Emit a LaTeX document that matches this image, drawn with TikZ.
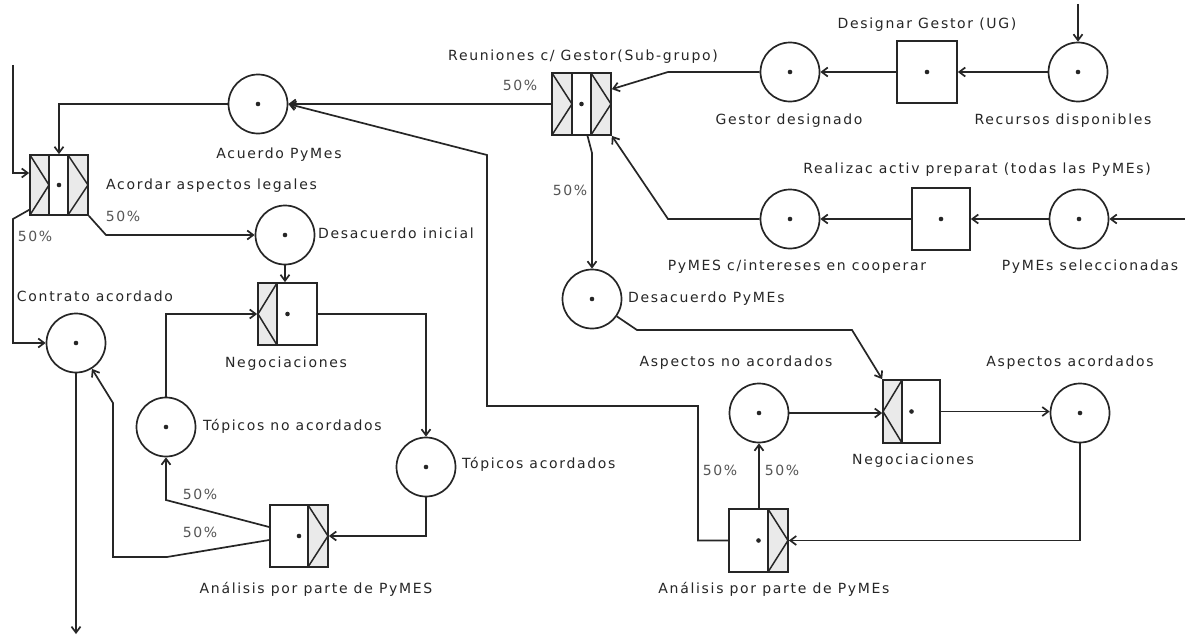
\documentclass[tikz,border=0pt]{standalone}
\usepackage{fontspec}
\newfontfamily\lblfont{DejaVu Sans}[LetterSpace=12]
\usetikzlibrary{arrows.meta,calc}
\definecolor{ink}{HTML}{262626}
\definecolor{lbl}{HTML}{262626}
\definecolor{pct}{HTML}{555555}
\definecolor{secfill}{HTML}{EAEAEA}
\tikzset{
  place/.style={circle,draw=ink,line width=1.7pt,minimum size=59pt,inner sep=0pt},
  trans/.style={rectangle,draw=ink,line width=1.7pt,inner sep=0pt},
  lab/.style={font=\lblfont\fontsize{14}{16}\selectfont,text=lbl,inner sep=0pt,text height=10pt,text depth=3pt},
  pctl/.style={lab,text=pct},
  conn/.style={draw=ink,line width=1.7pt,-{Straight Barb[length=6pt,width=9pt]}},
  secline/.style={draw=ink,line width=1.5pt},
}
% section with ">" : left x, right x, top y, bottom y
\newcommand{\pnSecR}[4]{%
  \fill[secfill] (#1,#3) rectangle (#2,#4);
  \draw[secline] (#1,#3) -- (#2,{(#3+#4)/2}) -- (#1,#4);}
% section with "<"
\newcommand{\pnSecL}[4]{%
  \fill[secfill] (#1,#3) rectangle (#2,#4);
  \draw[secline] (#2,#3) -- (#1,{(#3+#4)/2}) -- (#2,#4);}
\begin{document}
\begin{tikzpicture}[x=1pt,y=-1pt]
\useasboundingbox[fill=white] (0,0) rectangle (1185,642);

% ---------- section decorations (drawn first) ----------
\pnSecR{552}{572}{73}{135}
\pnSecR{591}{611}{73}{135}
\pnSecR{30}{49}{155}{215}
\pnSecR{68}{88}{155}{215}
\pnSecL{258}{277}{283}{345}
\pnSecL{883}{902}{380}{443}
\pnSecR{308}{328}{505}{567}
\pnSecR{768}{788}{509}{572}
\draw[secline] (572,73) -- (572,135) (591,73) -- (591,135);
\draw[secline] (49,155) -- (49,215) (68,155) -- (68,215);
\draw[secline] (277,283) -- (277,345);
\draw[secline] (902,380) -- (902,443);
\draw[secline] (308,505) -- (308,567);
\draw[secline] (768,509) -- (768,572);

% ---------- places ----------
\node[place] (rec) at (1078,72) {};
\node[place] (ges) at (790,72) {};
\node[place] (acu) at (258,104) {};
\node[place] (pci) at (790,219) {};
\node[place] (pys) at (1079,219) {};
\node[place] (dpy) at (592,299) {};
\node[place] (din) at (285,235) {};
\node[place] (con) at (76,343) {};
\node[place] (tna) at (166,427) {};
\node[place] (tac) at (426,467) {};
\node[place] (ana) at (759,413) {};
\node[place] (aac) at (1080,413) {};

% ---------- transitions ----------
\node[trans,minimum width=60pt,minimum height=62pt] (dg) at (927,72) {};
\node[trans,minimum width=58pt,minimum height=62pt] (rap) at (941,219) {};
\node[trans,minimum width=59pt,minimum height=62pt] (reu) at (581.5,104) {};
\node[trans,minimum width=58pt,minimum height=60pt] (aal) at (59,185) {};
\node[trans,minimum width=59pt,minimum height=62pt] (neg1) at (287.5,314) {};
\node[trans,minimum width=57pt,minimum height=63pt] (neg2) at (911.5,411.5) {};
\node[trans,minimum width=58pt,minimum height=62pt] (an1) at (299,536) {};
\node[trans,minimum width=59pt,minimum height=63pt] (an2) at (758.5,540.5) {};

\foreach \n in {rec,ges,acu,pci,pys,dpy,din,con,tna,tac,ana,aac,dg,rap,reu,aal,neg1,neg2,an1,an2}
  \fill[ink] (\n.center) circle (2.3pt);

% ---------- free ends ----------
\coordinate (inTop) at (1078,4);
\coordinate (inRight) at (1185,219);
\coordinate (inLeft) at (13,65);
\coordinate (outBottom) at (76,634);

% ---------- connectors ----------
\draw[conn] (inTop) -- (rec.north);
\draw[conn] (rec.west) -- (dg.east);
\draw[conn] (dg.west) -- (ges.east);
\draw[conn] (ges.west) -- (668,72) -- ($(reu.north east)+(0,17)$);
\draw[conn] (inRight) -- (pys.east);
\draw[conn] (pys.west) -- (rap.east);
\draw[conn] (rap.west) -- (pci.east);
\draw[conn] (pci.west) -- (668,219) -- (reu.south east);
\draw[conn] (reu.west) -- (acu.east);
\draw[conn] ($(reu.south)+(6,0)$) -- (592,153) -- (dpy.north);
\draw[conn] (dpy.-35) -- (637,330) -- (852,330) -- (neg2.north west);
\draw[conn] (ana.east) -- (ana.east -| neg2.west);
\draw[conn] (neg2.east) -- (neg2.east -| aac.west);
\draw[conn] (aac.south) |- (an2.east);
\draw[conn] (ana.south |- an2.north) -- (ana.south);
\draw[conn] (an2.west) -| (698,406) -| (487,155) -- (acu.east);
\draw[conn] (acu.west) -| (aal.north);
\draw[conn] (inLeft) |- ($(aal.west)+(0,-12)$);
\draw[conn] (aal.south east) -- (106,235) -- (din.west);
\draw[conn] ($(aal.south west)+(0,-6)$) -- (13,219) |- (con.west);
\draw[conn] (din.south) -- (din.south |- neg1.north);
\draw[conn] (tna.north) |- (neg1.west);
\draw[conn] (neg1.east) -| (tac.north);
\draw[conn] (tac.south) |- (an1.east);
\draw[conn] ($(an1.west)+(0,-9)$) -- (166,500) -- (tna.south);
\draw[conn] ($(an1.west)+(0,4)$) -- (167,557) -- (113,557) -- (113,403) -- (con);
\draw[conn] (con.south) -- (outBottom);

% ---------- labels ----------
\node[lab] (lDG) at (927,25) {Designar Gestor (UG)};
\node[lab] (lRec) at (1063,121) {Recursos disponibles};
\node[lab] (lGes) at (789,121) {Gestor designado};
\node[lab] (lReu) at (583,57) {Reuniones c/ Gestor(Sub-grupo)};
\node[pctl] (p1) at (520,87) {50\%};
\node[lab] (lRap) at (977,170) {Realizac activ preparat (todas las PyMEs)};
\node[lab] (lPci) at (797,267) {PyMES c/intereses en cooperar};
\node[lab] (lPys) at (1090,267) {PyMEs seleccionadas};
\node[pctl] (p2) at (570,192) {50\%};
\node[lab,anchor=west] (lDpy) at (628,299) {Desacuerdo PyMEs};
\node[lab] (lAcu) at (279,155) {Acuerdo PyMes};
\node[lab,anchor=west] (lAal) at (106,186) {Acordar aspectos legales};
\node[pctl] (p3) at (123,218) {50\%};
\node[pctl] (p4) at (35,238) {50\%};
\node[lab,anchor=west] (lDin) at (318,235) {Desacuerdo inicial};
\node[lab] (lCon) at (95,298) {Contrato acordado};
\node[lab] (lNeg1) at (286,364) {Negociaciones};
\node[lab,anchor=west] (lTna) at (203,427) {Tópicos no acordados};
\node[lab,anchor=west] (lTac) at (462,465) {Tópicos acordados};
\node[pctl] (p5) at (200,496) {50\%};
\node[pctl] (p6) at (200,534) {50\%};
\node[lab] (lAn1) at (316,590) {Análisis por parte de PyMES};
\node[lab] (lAna) at (736,363) {Aspectos no acordados};
\node[lab] (lAac) at (1070,363) {Aspectos acordados};
\node[lab] (lNeg2) at (913,461) {Negociaciones};
\node[pctl] (p7) at (720,472) {50\%};
\node[pctl] (p8) at (782,472) {50\%};
\node[lab] (lAn2) at (774,590) {Análisis por parte de PyMEs};
\end{tikzpicture}
\end{document}
